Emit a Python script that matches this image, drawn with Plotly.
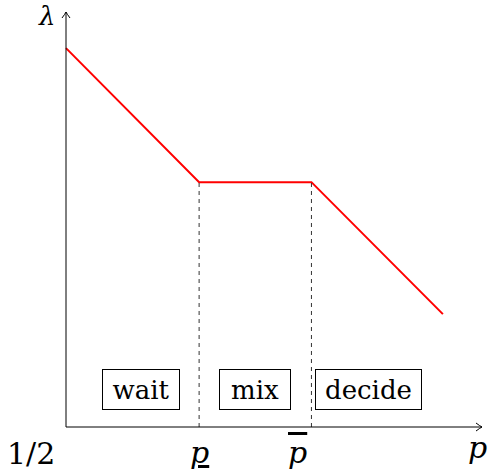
import plotly.graph_objects as go

# piecewise threshold lambda(p): decreasing, flat on [p_low, p_high], decreasing again
p_vals = [0.0, 0.32, 0.59, 0.906]
lam_vals = [0.913, 0.59, 0.59, 0.272]
p_low, p_high = p_vals[1], p_vals[2]
lam_mid = lam_vals[1]

regions = ["wait", "mix", "decide"]
region_x = [0.18, 0.454, 0.727]
region_w = [78, 72, 107]
region_y = 0.09

x_ticks = [p_low, p_high]
x_tick_text = ['<span style="text-decoration:underline">p</span>',
               '<span style="text-decoration:overline">p</span>']

W, H = 490, 473
X0, Y0 = 66, 427          # pixel position of the origin
SX, SY = 416, 415         # pixels per unit
x_range = [-X0 / SX, (W - X0) / SX]
y_range = [-(H - Y0) / SY, Y0 / SY]

FONT = "DejaVu Serif"

fig = go.Figure()

# red curve
fig.add_trace(go.Scatter(x=p_vals, y=lam_vals, mode="lines",
                         line=dict(color="#ff0000", width=2),
                         hoverinfo="skip", showlegend=False))

shapes = []
# dashed guides at p_low and p_high
for xv in x_ticks:
    shapes.append(dict(type="line", x0=xv, x1=xv, y0=0, y1=lam_mid,
                       xref="x", yref="y",
                       line=dict(color="#333333", width=1, dash="4px,4px")))

# axes with open arrowheads
x_end = (482 - X0) / SX
y_end = (Y0 - 12) / SY
shapes.append(dict(type="line", x0=0, y0=0, x1=x_end, y1=0, xref="x", yref="y",
                   line=dict(color="black", width=1)))
shapes.append(dict(type="line", x0=0, y0=0, x1=0, y1=y_end, xref="x", yref="y",
                   line=dict(color="black", width=1)))
shapes.append(dict(type="path", xref="x", yref="y",
                   path=f"M {x_end - 6/SX} {4/SY} Q {x_end - 2/SX} {1/SY} {x_end} 0 "
                        f"Q {x_end - 2/SX} {-1/SY} {x_end - 6/SX} {-4/SY}",
                   line=dict(color="black", width=1)))
shapes.append(dict(type="path", xref="x", yref="y",
                   path=f"M {-4/SX} {y_end - 6/SY} Q {-1/SX} {y_end - 2/SY} 0 {y_end} "
                        f"Q {1/SX} {y_end - 2/SY} {4/SX} {y_end - 6/SY}",
                   line=dict(color="black", width=1)))

annotations = []
for name, xc, w in zip(regions, region_x, region_w):
    annotations.append(dict(x=xc, y=region_y, xref="x", yref="y", text=name,
                            showarrow=False, font=dict(family=FONT, size=26, color="black"),
                            bordercolor="black", borderwidth=1, bgcolor="white",
                            width=w - 2, height=39, borderpad=0,
                            xanchor="center", yanchor="middle"))


def px(x, y):
    return (x - X0) / SX, (Y0 - y) / SY


labels = [
    ("1/2", 31, 453, False, 30, "center"),
    (x_tick_text[0], 199, 452, True, 30, "center"),
    (x_tick_text[1], 297, 452, True, 30, "center"),
    ("p", 488, 447, True, 30, "right"),
    ("λ", 46, 16, True, 26, "center"),
]
for txt, x, y, ital, size, anchor in labels:
    xd, yd = px(x, y)
    annotations.append(dict(x=xd, y=yd, xref="x", yref="y",
                            text=f"<i>{txt}</i>" if ital else txt,
                            showarrow=False, borderpad=0,
                            font=dict(family=FONT, size=size, color="black"),
                            xanchor=anchor, yanchor="middle"))

fig.update_layout(
    width=W, height=H,
    margin=dict(l=0, r=0, t=0, b=0),
    paper_bgcolor="white", plot_bgcolor="white",
    xaxis=dict(range=x_range, visible=False, fixedrange=True),
    yaxis=dict(range=y_range, visible=False, fixedrange=True),
    shapes=shapes, annotations=annotations,
    showlegend=False,
)

fig.write_html("out.html")
